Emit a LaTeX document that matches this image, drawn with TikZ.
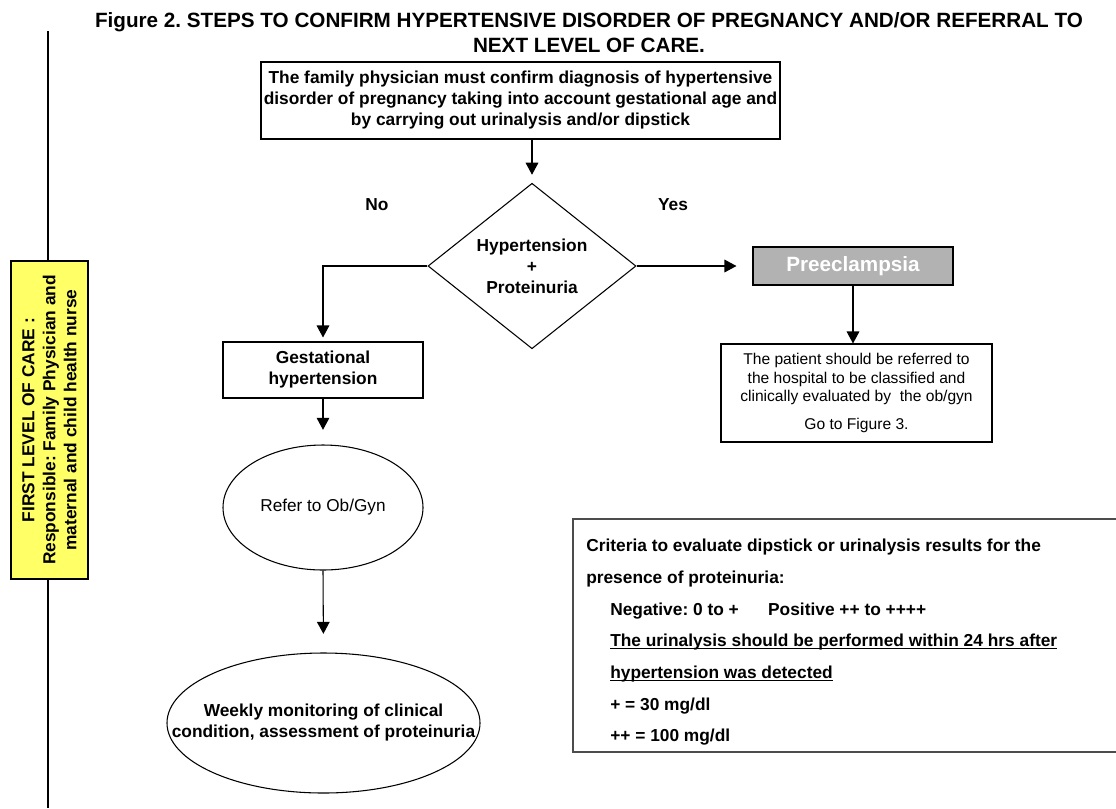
\documentclass[tikz,border=0pt]{standalone}
\usepackage{fontspec}
\setmainfont{Liberation Sans}
\usetikzlibrary{shapes,arrows,arrows.meta,calc,positioning}

\definecolor{laneyellow}{RGB}{255,255,102}
\frenchspacing

\begin{document}
\begin{tikzpicture}[x=0.75pt,y=-0.75pt,
    box/.style={draw=black, line width=0.8pt, rectangle, align=center, inner sep=0pt},
    oval/.style={draw=black, line width=0.8pt, ellipse, align=center, inner sep=0pt},
    arr/.style={draw=black, line width=0.8pt, -{Triangle[length=9pt,width=9.5pt]}},
    bold/.style={font=\bfseries\fontsize{13}{15.75}\selectfont}]
    \useasboundingbox (0,0) rectangle (1116,808);
    %title
    \node [align=center, anchor=north, inner sep=0pt, font=\bfseries\fontsize{15.5}{18.75}\selectfont] (title) at (589,12)
        {Figure 2. STEPS TO CONFIRM HYPERTENSIVE DISORDER OF PREGNANCY AND/OR REFERRAL TO\\NEXT LEVEL OF CARE.};
    %lane on the left
    \node [box, bold, rotate=90, fill=laneyellow, minimum width=238.5pt, minimum height=57.75pt] (lane) at (49.5,420)
        {FIRST LEVEL OF CARE :\\Responsible: Family Physician and\\maternal and child health nurse};
    \coordinate (lanetop) at (48,31);
    \coordinate (lanebot) at (48,808);
    \draw [black, line width=0.8pt] (lanetop) -- (lanetop |- lane.east);
    \draw [black, line width=0.8pt] (lanebot |- lane.west) -- (lanebot);
    %boxes
    \node [box, bold, minimum width=389.25pt, minimum height=57.75pt] (conf) at (520.5,100.5)
        {The family physician must confirm diagnosis of hypertensive\\disorder of pregnancy taking into account gestational age and\\by carrying out urinalysis and/or dipstick};
    \node [draw=black, line width=0.8pt, diamond, bold, align=center, inner sep=0pt, minimum width=156pt, minimum height=102pt] (hyp) at (532,266)
        {Hypertension\\+\\Proteinuria};
    \node [bold] (no) at (377,205) {No};
    \node [bold] (yes) at (673,205) {Yes};
    \node [box, bold, minimum width=150pt, minimum height=42pt] (gest) at (323,370) {Gestational\\hypertension};
    \node [oval, minimum width=150pt, minimum height=93.75pt,
        label={[font=\fontsize{12.9}{15.75}\selectfont]center:Refer to Ob/Gyn}] (refer) at (323,507.5) {};
    \node [oval, minimum width=234.75pt, minimum height=105pt,
        label={[bold, align=center]center:Weekly monitoring of clinical\\condition, assessment of proteinuria}] (weekly) at (323.5,723) {};
    \node [box, fill=black!30, text=white, font=\bfseries\fontsize{15.5}{18}\selectfont, minimum width=150pt, minimum height=28.5pt] (pre) at (853,266) {Preeclampsia};
    \node [box, font=\fontsize{11.7}{13.7}\selectfont, minimum width=203.25pt, minimum height=73.5pt] (patient) at (856.5,393)
        {The patient should be referred to\\the hospital to be classified and\\clinically evaluated by \ the ob/gyn\\[7.3pt]Go to Figure 3.};
    %criteria
    \draw [black!70, line width=0.8pt] (573,519) rectangle (1130,752);
    \node [anchor=north west, align=left, inner sep=0pt, font=\bfseries\fontsize{13}{23.75}\selectfont] (crit) at (586,539)
        {Criteria to evaluate dipstick or urinalysis results for the\\
         presence of proteinuria:\\
         \hspace*{18pt}Negative: 0 to +\hspace{22pt}Positive ++ to ++++\\
         \hspace*{18pt}\underline{\smash{The urinalysis should be performed within 24 hrs after}}\\
         \hspace*{18pt}\underline{\smash{hypertension was detected}}\\
         \hspace*{18pt}+ = 30 mg/dl\\
         \hspace*{18pt}++ = 100 mg/dl};
    %arrows
    \draw [arr, shorten >=6pt] (hyp.north |- conf.south) -- (hyp.north);
    \draw [arr, shorten >=3pt] (hyp.west) -| (gest.north);
    \draw [arr, shorten >=12pt] (hyp.east) -- (pre.west);
    \draw [arr, shorten >=11pt] (gest.south) -- (refer.north);
    \draw [arr, shorten >=14pt] (refer.south) -- (weekly.north);
    \draw [arr] (pre.south) -- (pre.south |- patient.north);
\end{tikzpicture}
\end{document}
